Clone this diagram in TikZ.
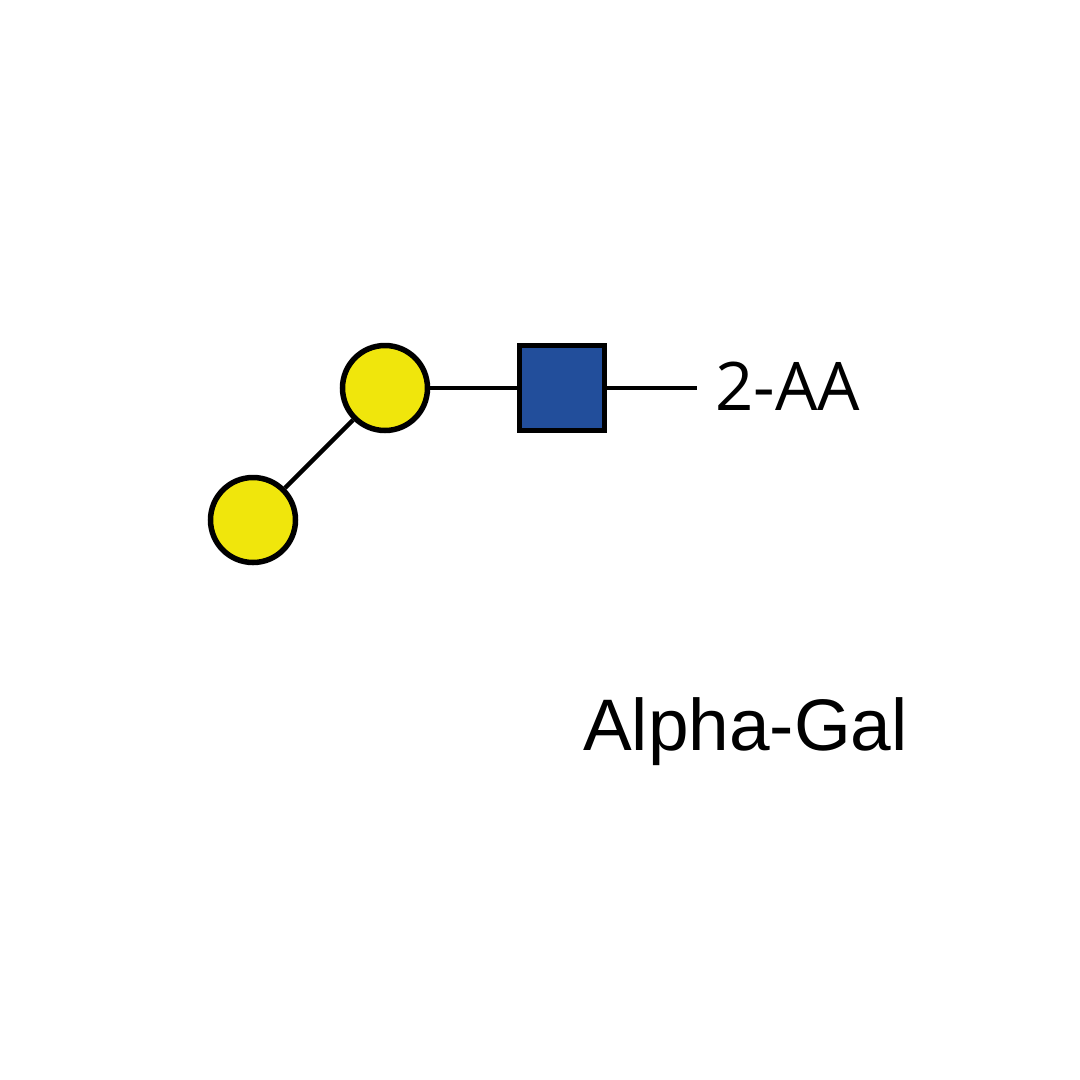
\documentclass[tikz,border=0pt]{standalone}
\usepackage{fontspec}
\setmainfont{Liberation Sans}
\newfontfamily\labfont{Open Sans}
\definecolor{galyellow}{HTML}{F0E60C}
\definecolor{glcnacblue}{HTML}{224E9B}
\begin{document}
\begin{tikzpicture}[x=1pt,y=1pt,
  galnode/.style={circle,draw=black,line width=5.5pt,fill=galyellow,minimum size=85pt,inner sep=0pt},
  glcnode/.style={rectangle,draw=black,line width=5.5pt,fill=glcnacblue,minimum size=85pt,inner sep=0pt},
  bond/.style={draw=black,line width=4.5pt}]
\useasboundingbox (0,0) rectangle (1080,-1080);
\fill[white] (0,0) rectangle (1080,-1080);
\node[galnode] (g1) at (385,-388) {};
\node[galnode] (g2) at (253,-520) {};
\node[glcnode] (sq) at (562,-388) {};
\coordinate (red) at (697,-388);
\draw[bond] (g2) -- (g1);
\draw[bond] (g1) -- (sq);
\draw[bond] (sq) -- (red);
\node[anchor=base west,inner sep=0pt,font=\labfont\fontsize{67}{67}\selectfont] (aa) at (715,-410) {2-AA};
\node[anchor=base west,inner sep=0pt,font=\fontsize{73}{73}\selectfont] (title) at (583,-750) {Alpha-Gal};
\end{tikzpicture}
\end{document}
